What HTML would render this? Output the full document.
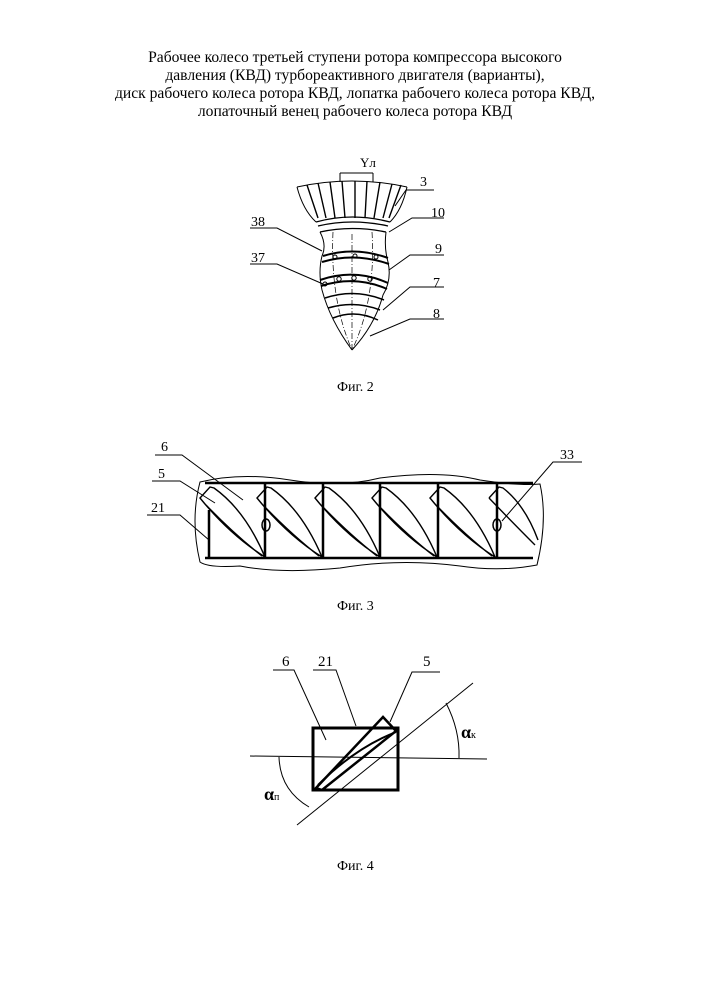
<!DOCTYPE html>
<html><head><meta charset="utf-8"><style>
body{margin:0;background:#fff;width:707px;height:1000px;overflow:hidden}
svg{position:absolute;left:0;top:0}
text{font-family:"Liberation Serif",serif;fill:#000}
</style></head><body>
<svg width="707" height="1000" viewBox="0 0 707 1000">
<g font-size="15.6" text-anchor="middle">
<text x="355" y="62">Рабочее колесо третьей ступени ротора компрессора высокого</text>
<text x="355" y="80">давления (КВД) турбореактивного двигателя (варианты),</text>
<text x="355" y="98">диск рабочего колеса ротора КВД, лопатка рабочего колеса ротора КВД,</text>
<text x="355" y="116">лопаточный венец рабочего колеса ротора КВД</text>
</g>
<!-- Fig 2 -->
<g fill="none" stroke="#000" stroke-width="1">
<text x="360" y="167" font-size="13" font-family="Liberation Sans" stroke="none">Yл</text>
<path d="M340 173 V182 M340 173 H373 M373 173 V182"/>
<path d="M297 187 Q352 175 407 187"/>
<path d="M297 187 Q303 210 316 222 M407 187 Q402 210 390 222"/>
<path d="M307 185 L318 218 M318 183 L326 218 M330 182 L335 218 M342 181 L345 218 M355 181 L355 218 M367 181 L365 218 M380 182 L374 218 M392 184 L383 218 M401 185 L389 218" stroke-width="1.4"/>
<path d="M316 222 Q352 212 390 222 M318 226 Q352 218 388 226 M320 232 Q352 225 386 232" stroke-width="1.3"/>
<path d="M320 232 Q327 245 322 256 Q318 272 322 290 Q330 320 352 350 M386 232 Q384 248 388 262 Q392 280 383 295 Q375 325 352 350"/>
<path d="M323 256 Q355 246 388 258 M322 262 Q355 252 389 264 M320 280 Q355 268 388 283 M321 286 Q355 275 387 289" stroke-width="2"/>
<path d="M325 298 Q355 288 384 300 M328 308 Q355 300 380 310 M333 318 Q355 309 378 320" stroke-width="1.5"/>
<path d="M352 350 V232" stroke-dasharray="6 2 1 2" stroke-width="0.7"/>
<path d="M333 232 Q330 300 352 350 M372 232 Q376 300 352 350" stroke-dasharray="6 2 1 2" stroke-width="0.7"/>
<circle cx="335" cy="257" r="2"/><circle cx="355" cy="256" r="2"/><circle cx="376" cy="257" r="2"/>
<circle cx="325" cy="284" r="2"/><circle cx="339" cy="279" r="2.2"/><circle cx="354" cy="278" r="2.2"/><circle cx="370" cy="279" r="2.2"/>
<path d="M434 190 H406 L395 206"/>
<path d="M444 218 H412 L389 232"/>
<path d="M444 255 H410 L389 270"/>
<path d="M444 287 H410 L383 310"/>
<path d="M444 319 H410 L370 336"/>
<path d="M250 228 H277 L322 251"/>
<path d="M250 264 H277 L323 284"/>
</g>
<g font-size="14">
<text x="420" y="186">3</text><text x="431" y="217">10</text><text x="435" y="253">9</text>
<text x="433" y="287">7</text><text x="433" y="318">8</text>
<text x="251" y="226">38</text><text x="251" y="262">37</text>
<text x="337" y="391">Фиг. 2</text>
</g>
<!-- Fig 3 -->
<g fill="none" stroke="#000">
<path d="M200 482 Q240 472 290 480 Q340 488 380 478 Q440 470 480 480 Q520 486 540 484 Q548 520 537 565 Q500 572 460 566 Q400 558 340 568 Q280 574 240 566 Q208 568 200 562 Q190 520 200 482 Z" stroke-width="1"/>
<path d="M205 483 H533 M205 558 H533" stroke-width="2.5"/>
<path d="M209 510 V558 M265 483 V558 M323 483 V558 M380 483 V558 M438 483 V558 M497 483 V558" stroke-width="2.5"/>
<g stroke-width="1.4">
<path id="b" d="M200 498 L210 487 L214 488 Q245 510 265 557 Q230 535 200 498 Z M206 505 Q235 535 262 556"/>
<use href="#b" x="57"/><use href="#b" x="115"/><use href="#b" x="172"/><use href="#b" x="230"/>
</g>
<path d="M489 498 L499 487 L503 488 Q525 505 538 540 M489 498 Q515 525 535 545" stroke-width="1.4"/>
<ellipse cx="266" cy="525" rx="4" ry="6" stroke-width="1.5"/>
<ellipse cx="497" cy="525" rx="4" ry="6" stroke-width="1.5"/>
<path d="M155 455 H182 L243 500 M152 481 H180 L215 503 M147 515 H180 L209 540 M582 462 H553 L502 521" stroke-width="1"/>
</g>
<g font-size="14">
<text x="161" y="451">6</text><text x="158" y="478">5</text>
<text x="151" y="512">21</text><text x="560" y="459">33</text>
<text x="337" y="610">Фиг. 3</text>
</g>
<!-- Fig 4 -->
<g fill="none" stroke="#000">
<path d="M250 756 L487 759" stroke-width="1"/>
<path d="M297 825 L473 683" stroke-width="1"/>
<path d="M313 728 H398 V790 H313 Z" stroke-width="3"/>
<path d="M316 788 L383 717 L396 731 L322 790 Z" stroke-width="2.5"/>
<path d="M318 785 Q355 748 396 732" stroke-width="2"/>
<path d="M279 757 Q280 790 309 807" stroke-width="1"/>
<path d="M446 703 Q460 730 459 758" stroke-width="1"/>
<path d="M273 670 H294 L326 740 M313 670 H336 L356 726 M440 672 H412 L390 722" stroke-width="1"/>
</g>
<g font-size="15">
<text x="282" y="666">6</text><text x="318" y="666">21</text><text x="423" y="666">5</text>
<text x="337" y="870" font-size="14">Фиг. 4</text>
</g>
<text x="461" y="738" font-family="Liberation Sans" font-weight="bold" font-size="18">α<tspan font-size="10" font-weight="normal">к</tspan></text>
<text x="264" y="800" font-family="Liberation Sans" font-weight="bold" font-size="18">α<tspan font-size="10" font-weight="normal">п</tspan></text>
</svg>
</body></html>
